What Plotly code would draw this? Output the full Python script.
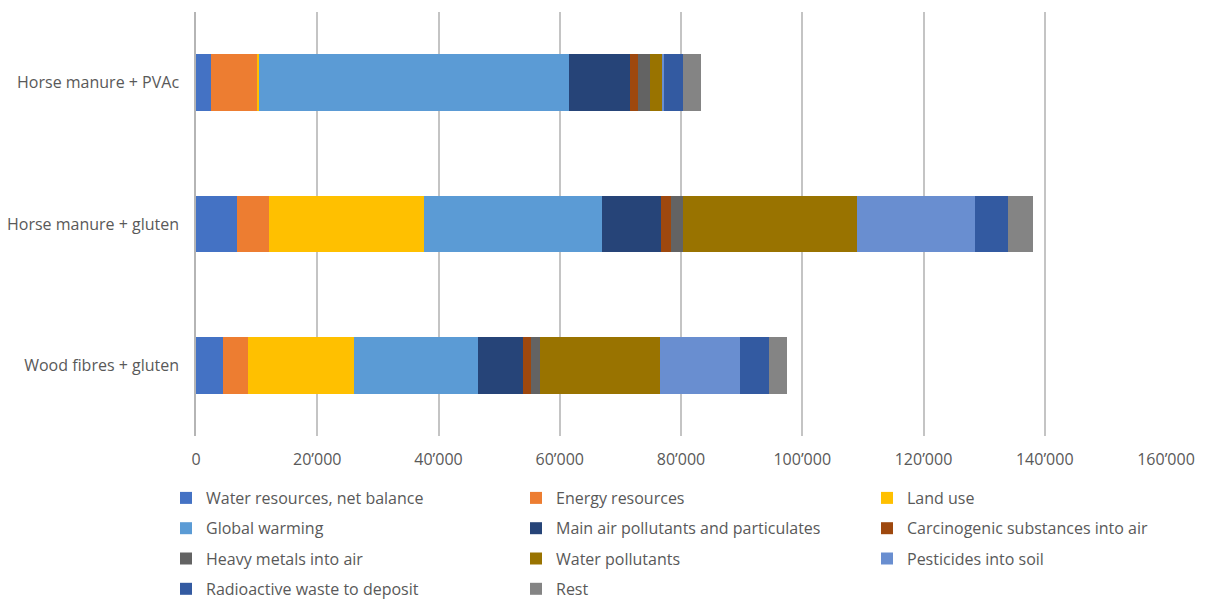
import plotly.graph_objects as go

# Categories, listed bottom to top
products = ["Wood fibres + gluten", "Horse manure + gluten", "Horse manure + PVAc"]

# Impact contributions per product (same order as products)
water_resources = [4500, 6700, 2400]
energy_resources = [4100, 5300, 7700]
land_use = [17500, 25600, 300]
global_warming = [20400, 29450, 51200]
main_air_pollutants = [7400, 9600, 10050]
carcinogenic_air = [1400, 1750, 1300]
heavy_metals_air = [1500, 2000, 2000]
water_pollutants = [19700, 28600, 2000]
pesticides_soil = [13300, 19500, 200]
radioactive_waste = [4700, 5400, 3200]
rest = [3000, 4100, 3000]

# (name, values, colour, legend column)
series = [
    ("Water resources, net balance", water_resources, "#4472C4", "legend"),
    ("Energy resources", energy_resources, "#ED7D31", "legend2"),
    ("Land use", land_use, "#FFC000", "legend3"),
    ("Global warming", global_warming, "#5B9BD5", "legend"),
    ("Main air pollutants and particulates", main_air_pollutants, "#264478", "legend2"),
    ("Carcinogenic substances into air", carcinogenic_air, "#9E480E", "legend3"),
    ("Heavy metals into air", heavy_metals_air, "#636363", "legend"),
    ("Water pollutants", water_pollutants, "#997300", "legend2"),
    ("Pesticides into soil", pesticides_soil, "#698ED0", "legend3"),
    ("Radioactive waste to deposit", radioactive_waste, "#335AA1", "legend"),
    ("Rest", rest, "#848484", "legend2"),
]

tick_vals = [0, 20000, 40000, 60000, 80000, 100000, 120000, 140000, 160000]
tick_text = ["0", "20’000", "40’000", "60’000", "80’000", "100’000", "120’000", "140’000", "160’000"]

W, H = 1208, 599
text_color = "#595959"
font_family = "Open Sans, Liberation Sans, sans-serif"

fig = go.Figure()
for i, (name, vals, color, leg) in enumerate(series):
    fig.add_trace(go.Bar(
        y=products, x=vals, name=name, orientation="h",
        marker=dict(color=color, line=dict(width=0)),
        legend=leg, legendgroup=f"g{i}",
    ))


def legend_column(x_px):
    return dict(
        orientation="v", xref="container", yref="container",
        x=x_px / W, xanchor="left", y=1 - 481 / H, yanchor="top",
        font=dict(size=16, color=text_color), itemwidth=30,
        tracegroupgap=6.5, bgcolor="rgba(0,0,0,0)",
    )


fig.update_layout(
    barmode="stack",
    bargap=0.6,
    width=W, height=H,
    margin=dict(l=196, r=42, t=12, b=163, autoexpand=False),
    plot_bgcolor="white", paper_bgcolor="white",
    font=dict(family=font_family, size=16, color=text_color),
    xaxis=dict(
        range=[0, 160000], tickvals=tick_vals, ticktext=tick_text,
        showgrid=True, gridcolor="#c4c4c4", gridwidth=1.5,
        zeroline=False, showline=False, ticks="",
        ticklabelstandoff=12, tickfont=dict(size=16, color=text_color),
    ),
    yaxis=dict(
        categoryorder="array", categoryarray=products,
        showline=True, linecolor="#b5b5b5", linewidth=1.5,
        showgrid=False, ticks="", ticklabelstandoff=12,
        tickfont=dict(size=16, color=text_color),
    ),
    legend=legend_column(166),
    legend2=legend_column(516),
    legend3=legend_column(867),
    showlegend=True,
)

fig.write_html("out.html")
